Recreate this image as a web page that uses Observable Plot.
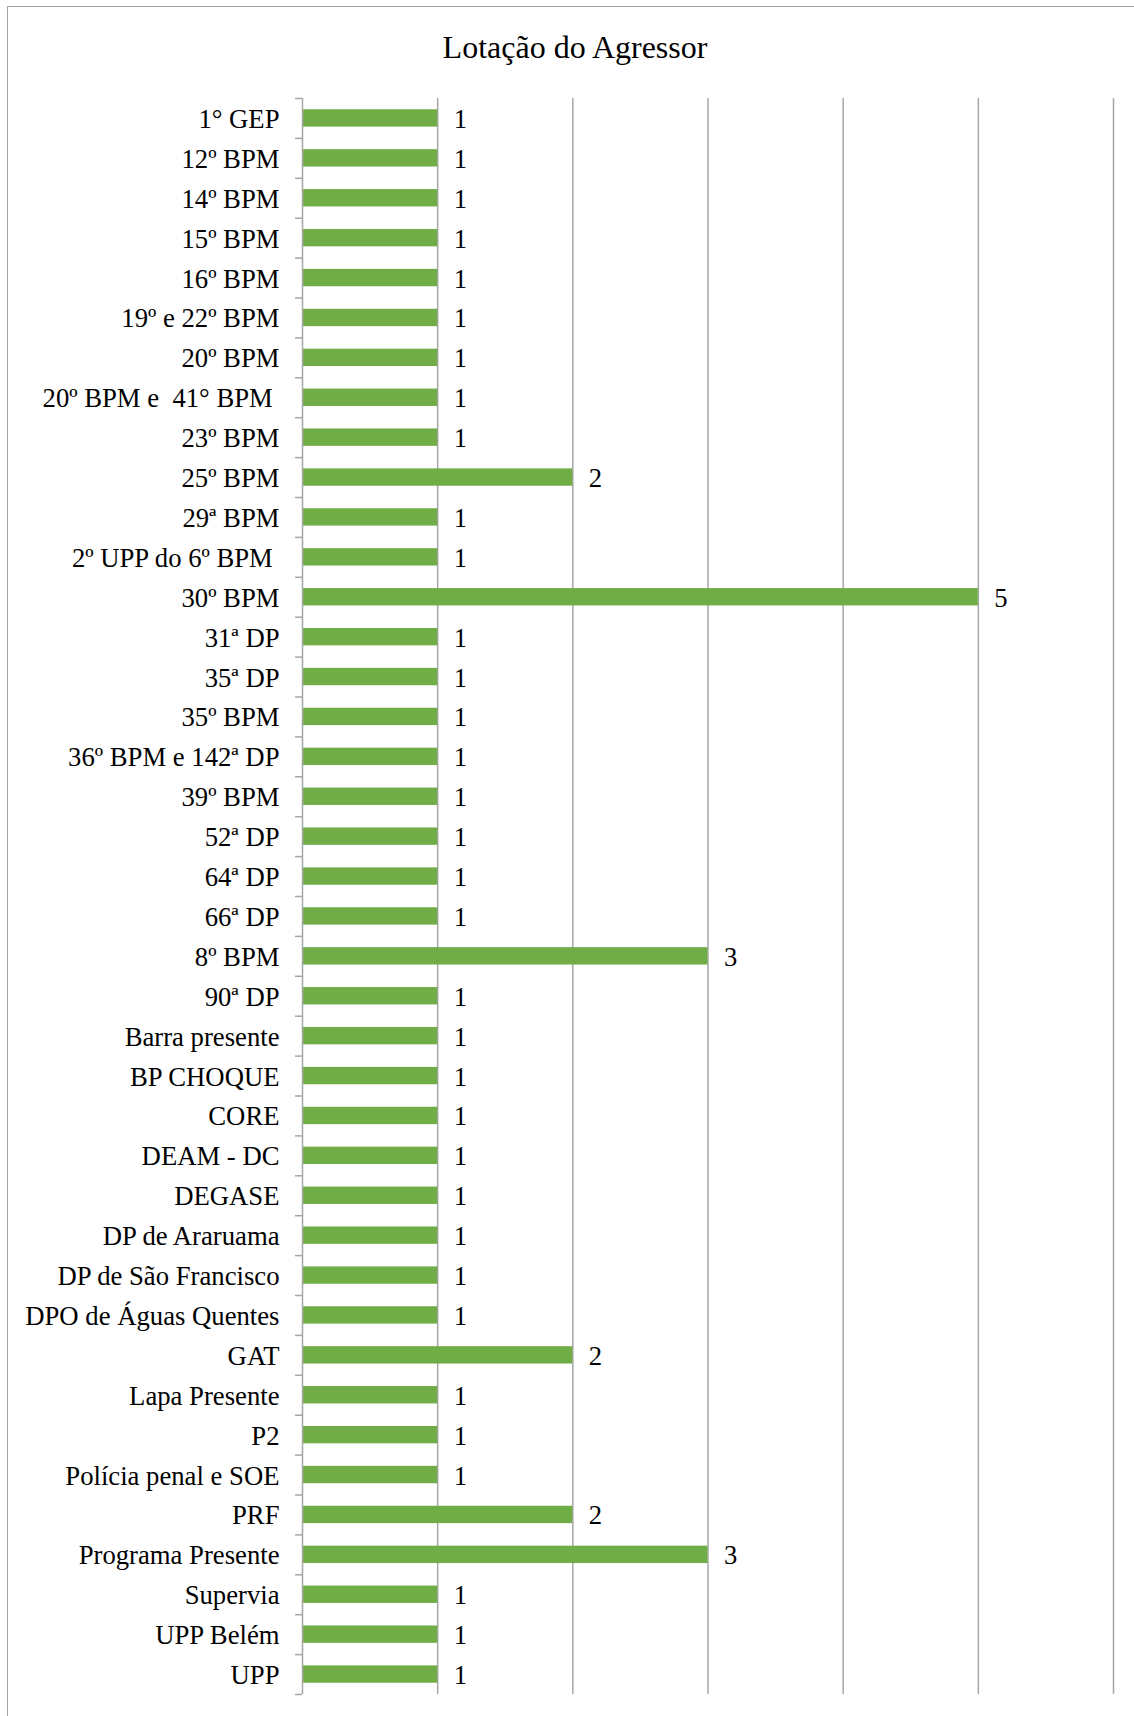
<!DOCTYPE html>
<html>
<head>
<meta charset="utf-8">
<script src="https://cdn.jsdelivr.net/npm/d3@7"></script>
<script src="https://cdn.jsdelivr.net/npm/@observablehq/plot@0.6"></script>
<style>
  html, body { margin: 0; padding: 0; background: #fff; }
  body { width: 1134px; height: 1716px; position: relative; overflow: hidden; font-family: "Liberation Serif", "Times New Roman", serif; }
  #frame { position: absolute; left: 7px; top: 6px; width: 1300px; height: 1900px; border-left: 1.5px solid #a3a3a3; border-top: 1.5px solid #a3a3a3; box-sizing: border-box; }
  #title { position: relative; height: 80px; box-sizing: border-box; padding-top: 31px; padding-left: 16px; text-align: center; font-size: 32px; line-height: 32px; color: #000; }
  #chart { position: relative; }
</style>
</head>
<body>
<div id="frame"></div>
<div id="title">Lotação do Agressor</div>
<div id="chart"></div>
<script>
const categories = [
  "1° GEP", "12º BPM", "14º BPM", "15º BPM", "16º BPM", "19º e 22º BPM", "20º BPM",
  "20º BPM e  41° BPM ", "23º BPM", "25º BPM", "29ª BPM", "2º UPP do 6º BPM ", "30º BPM",
  "31ª DP", "35ª DP", "35º BPM", "36º BPM e 142ª DP", "39º BPM", "52ª DP", "64ª DP", "66ª DP",
  "8º BPM", "90ª DP", "Barra presente", "BP CHOQUE", "CORE", "DEAM - DC", "DEGASE",
  "DP de Araruama", "DP de São Francisco", "DPO de Águas Quentes", "GAT", "Lapa Presente",
  "P2", "Polícia penal e SOE", "PRF", "Programa Presente", "Supervia", "UPP Belém", "UPP"
];
const values = [
  1, 1, 1, 1, 1, 1, 1,
  1, 1, 2, 1, 1, 5,
  1, 1, 1, 1, 1, 1, 1, 1,
  3, 1, 1, 1, 1, 1, 1,
  1, 1, 1, 2, 1,
  1, 1, 2, 3, 1, 1, 1
];
const gridTicks = [1, 2, 3, 4, 5, 6];
const xMax = 6;

const rows = categories.map((c, i) => ({category: c, value: values[i]}));

const W = 1134, H = 1636;
const mTop = 18, mBottom = 22, mLeft = 302, mRight = 21;
const step = (H - mTop - mBottom) / categories.length;
const pxPerUnit = (W - mLeft - mRight) / xMax;
const tickLen = 7 / pxPerUnit;
const gray = "#a6a6a6";
const fs = 26.7;

const chart = Plot.plot({
  width: W,
  height: H,
  marginTop: mTop,
  marginBottom: mBottom,
  marginLeft: mLeft,
  marginRight: mRight,
  style: {fontFamily: "'Liberation Serif', 'Times New Roman', serif", fontSize: fs + "px", color: "#000", background: "transparent"},
  x: {domain: [0, xMax], axis: null},
  y: {domain: categories, paddingInner: 0.565, paddingOuter: 0.2825, align: 0.5, axis: null},
  marks: [
    Plot.ruleX(gridTicks, {stroke: gray, strokeWidth: 1.5}),
    Plot.barX(rows, {x: "value", y: "category", fill: "#70AD47"}),
    Plot.ruleX([0], {stroke: gray, strokeWidth: 1.5}),
    Plot.ruleY(categories, {y: d => d, x1: -tickLen, x2: 0, dy: -step / 2, stroke: gray, strokeWidth: 1.5}),
    Plot.ruleY([categories[categories.length - 1]], {y: d => d, x1: -tickLen, x2: 0, dy: step / 2, stroke: gray, strokeWidth: 1.5}),
    Plot.axisY({tickSize: 0, tickPadding: 23, fontSize: fs, fill: "#000", label: null, dy: 1}),
    Plot.text(rows, {x: "value", y: "category", text: d => String(d.value), dx: 16, dy: 1, textAnchor: "start", fontSize: fs, fill: "#000"})
  ]
});
document.getElementById("chart").appendChild(chart);
</script>
</body>
</html>
